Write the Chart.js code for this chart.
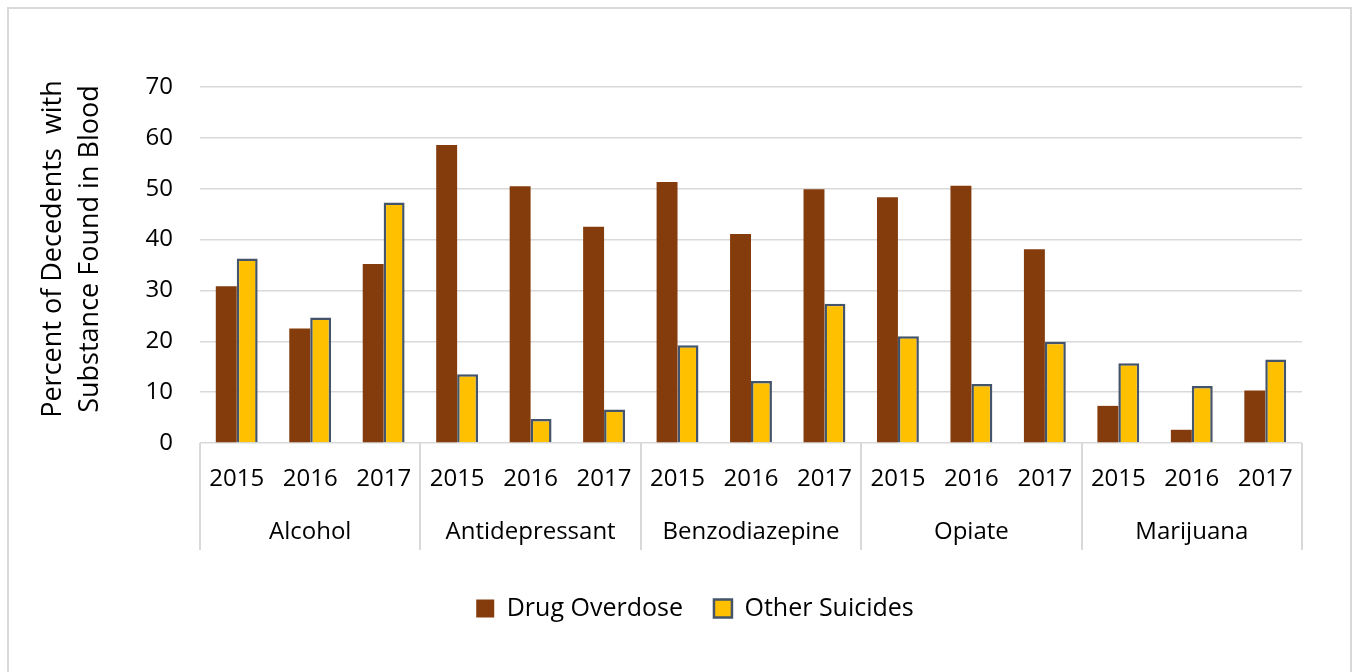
<!DOCTYPE html>
<html>
<head>
<meta charset="utf-8">
<script src="https://cdn.jsdelivr.net/npm/chart.js@4/dist/chart.umd.min.js"></script>
<style>
    html, body { margin: 0; padding: 0; background: #fff; overflow: hidden; }
    #frame {
        position: absolute; left: 7px; top: 7px;
        width: 1341px; height: 700px;
        border: 2px solid #d9d9d9;
    }
    #wrap { position: absolute; left: 0; top: 0; width: 1353px; height: 672px; }
</style>
</head>
<body>
<div id="frame"></div>
<div id="wrap"><canvas id="substanceChart"></canvas></div>
<script>
var substances = ['Alcohol', 'Antidepressant', 'Benzodiazepine', 'Opiate', 'Marijuana'];
var years = ['2015', '2016', '2017'];
var drugOverdose  = [30.8, 22.5, 35.2, 58.6, 50.5, 42.5, 51.3, 41.1, 49.9, 48.3, 50.6, 38.1, 7.3, 2.6, 10.3];
var otherSuicides = [36.3, 24.7, 47.3, 13.5, 4.7, 6.6, 19.2, 12.2, 27.4, 21.0, 11.6, 19.9, 15.7, 11.2, 16.4];
var yTicks = [0, 10, 20, 30, 40, 50, 60, 70];
var yTitle = ['Percent of Decedents  with', 'Substance Found in Blood'];

var fontFamily = "'Open Sans', 'Noto Sans', sans-serif";
var lineGrey = '#d9d9d9';

// one year label per bar pair
var labels = [];
substances.forEach(function(s) {
    years.forEach(function(y) { labels.push(y); });
});

// substance names, separators under the year row and the y title
var groupAxis = {
    id: 'groupAxis',
    afterDraw: function(chart) {
        var ctx = chart.ctx;
        var xs = chart.scales.x;
        var cat = (xs.right - xs.left) / labels.length;
        var top = chart.chartArea.bottom;

        ctx.save();
        ctx.strokeStyle = lineGrey;
        ctx.lineWidth = 2;
        for (var k = 0; k <= substances.length; k++) {
            var bx = Math.round(xs.left + k * years.length * cat);
            ctx.beginPath();
            ctx.moveTo(bx, top);
            ctx.lineTo(bx, top + 107);
            ctx.stroke();
        }
        ctx.fillStyle = '#000';
        ctx.font = '24px ' + fontFamily;
        ctx.textAlign = 'center';
        ctx.textBaseline = 'middle';
        substances.forEach(function(s, k) {
            var cx = xs.left + (k * years.length + years.length / 2) * cat;
            ctx.fillText(s, cx, top + 89);
        });

        // rotated axis title, two lines
        ctx.font = '27px ' + fontFamily;
        ctx.translate(0, 249);
        ctx.rotate(-Math.PI / 2);
        ctx.fillText(yTitle[0], 0, 53);
        ctx.fillText(yTitle[1], 0, 90);
        ctx.restore();
    }
};

var ctx = document.getElementById('substanceChart');

var myChart = new Chart(ctx, {
    type: 'bar',
    data: {
        labels: labels,
        datasets: [{
            label: 'Drug Overdose',
            data: drugOverdose,
            backgroundColor: '#843c0c',
            borderWidth: 0,
            categoryPercentage: 0.57,
            barPercentage: 1.0
        }, {
            label: 'Other Suicides',
            data: otherSuicides,
            backgroundColor: '#ffc000',
            borderColor: '#44546a',
            borderWidth: 2.5,
            categoryPercentage: 0.57,
            barPercentage: 1.0
        }]
    },
    options: {
        responsive: true,
        maintainAspectRatio: false,
        animation: false,
        layout: { padding: { left: 88, right: 51, top: 87, bottom: 41 } },
        plugins: {
            tooltip: { enabled: false },
            legend: {
                position: 'bottom',
                labels: {
                    color: '#000',
                    font: { family: fontFamily, size: 25 },
                    boxWidth: 18,
                    boxHeight: 18,
                    padding: 31
                }
            }
        },
        scales: {
            x: {
                grid: { display: false },
                border: { display: false },
                ticks: {
                    color: '#000',
                    font: { family: fontFamily, size: 24 },
                    padding: 14,
                    maxRotation: 0,
                    autoSkip: false
                },
                afterFit: function(scale) { scale.height = 122; }
            },
            y: {
                min: 0,
                max: 70,
                afterBuildTicks: function(scale) {
                    scale.ticks = yTicks.map(function(v) { return { value: v }; });
                },
                grid: { color: lineGrey, lineWidth: 1.5, drawTicks: false },
                border: { display: false },
                ticks: {
                    color: '#000',
                    font: { family: fontFamily, size: 24 },
                    padding: 27
                },
                afterFit: function(scale) { scale.width = 112; }
            }
        }
    },
    plugins: [groupAxis]
});
</script>
</body>
</html>
